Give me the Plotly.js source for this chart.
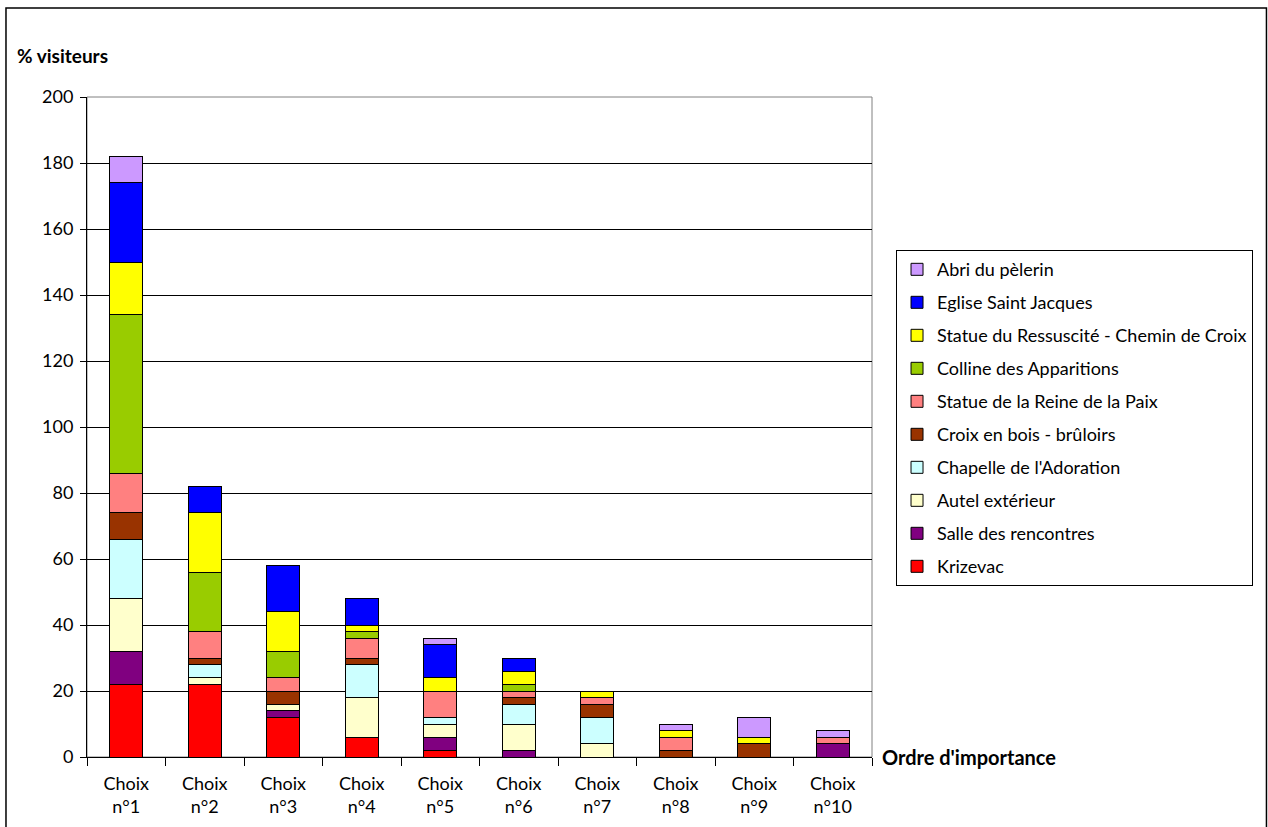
<!DOCTYPE html>
<html>
<head>
<meta charset="utf-8">
<script src="https://cdn.plot.ly/plotly-3.0.1.min.js"></script>
<style>html,body{margin:0;padding:0;background:#fff;}#chart{width:1268px;height:827px;}</style>
</head>
<body>
<div id="chart"></div>
<script>
const categories = ["Choix<br>n°1","Choix<br>n°2","Choix<br>n°3","Choix<br>n°4","Choix<br>n°5","Choix<br>n°6","Choix<br>n°7","Choix<br>n°8","Choix<br>n°9","Choix<br>n°10"];

const seriesNames = ["Krizevac","Salle des rencontres","Autel extérieur","Chapelle de l'Adoration","Croix en bois - brûloirs","Statue de la Reine de la Paix","Colline des Apparitions","Statue du Ressuscité - Chemin de Croix","Eglise Saint Jacques","Abri du pèlerin"];

const krizevac  = [22, 22, 12, 6, 2, 0, 0, 0, 0, 0];
const salle     = [10, 0, 2, 0, 4, 2, 0, 0, 0, 4];
const autel     = [16, 2, 2, 12, 4, 8, 4, 0, 0, 0];
const chapelle  = [18, 4, 0, 10, 2, 6, 8, 0, 0, 0];
const croix     = [8, 2, 4, 2, 0, 2, 4, 2, 4, 0];
const reine     = [12, 8, 4, 6, 8, 2, 2, 4, 0, 2];
const colline   = [48, 18, 8, 2, 0, 2, 0, 0, 0, 0];
const ressuscite= [16, 18, 12, 2, 4, 4, 2, 2, 2, 0];
const eglise    = [24, 8, 14, 8, 10, 4, 0, 0, 0, 0];
const abri      = [8, 0, 0, 0, 2, 0, 0, 2, 6, 2];

const seriesValues = [krizevac, salle, autel, chapelle, croix, reine, colline, ressuscite, eglise, abri];
const seriesColors = ["#FF0000","#800080","#FFFFCC","#CCFFFF","#993300","#FF8080","#99CC00","#FFFF00","#0000FF","#CC99FF"];

const FONT = "Lato, 'Open Sans', sans-serif";

const traces = seriesNames.map((n, i) => ({
  type: "bar",
  name: n,
  x: categories,
  y: seriesValues[i],
  legendgroup: "g" + i,
  legendrank: 100 - i,
  marker: {color: seriesColors[i], line: {color: "#000", width: 1}},
  hoverinfo: "name+y"
}));

const layout = {
  width: 1268, height: 827,
  margin: {l: 87, r: 396, t: 97, b: 70, pad: 0},
  paper_bgcolor: "#fff", plot_bgcolor: "#fff",
  barmode: "stack",
  bargap: 0.58,
  font: {family: FONT, size: 18, color: "#000"},
  showlegend: true,
  legend: {
    x: 1.0306, xanchor: "left", y: 0.768, yanchor: "top",
    traceorder: "grouped", tracegroupgap: 6.6,
    bordercolor: "#000", borderwidth: 1, bgcolor: "#fff",
    font: {family: FONT, size: 18, color: "#000"},
    itemclick: false
  },
  xaxis: {
    type: "category",
    showline: true, linecolor: "#000", linewidth: 1,
    ticks: "outside", tickson: "boundaries", ticklen: 8, tickcolor: "#000",
    ticklabelstandoff: 10,
    showgrid: false, zeroline: false,
    tickfont: {family: FONT, size: 18, color: "#000"},
    fixedrange: true
  },
  yaxis: {
    range: [0, 200], dtick: 20, tick0: 0,
    showline: true, linecolor: "#000", linewidth: 1,
    ticks: "outside", ticklen: 6, tickcolor: "#000",
    ticklabelstandoff: 3,
    showgrid: true, gridcolor: "#000", gridwidth: 1,
    zeroline: false,
    tickfont: {family: FONT, size: 18, color: "#000"},
    fixedrange: true
  },
  shapes: [
    {type: "rect", xref: "paper", yref: "paper", x0: 0, x1: 1, y0: 0, y1: 1,
     line: {color: "#808080", width: 1}, layer: "below"},
    {type: "rect", xref: "paper", yref: "paper", x0: -0.1032, x1: 1.5025, y0: -0.2, y1: 1.1348,
     line: {color: "#000", width: 1.5}, layer: "below"}
  ],
  annotations: [
    {text: "<b>% visiteurs</b>", xref: "paper", yref: "paper",
     x: -0.0917, y: 1.0636, xanchor: "left", yanchor: "middle", showarrow: false,
     font: {family: FONT, size: 19, color: "#000"}},
    {text: "<b>Ordre d'importance</b>", xref: "paper", yref: "paper",
     x: 1.0102, y: 0, xanchor: "left", yanchor: "middle", showarrow: false,
     font: {family: FONT, size: 20, color: "#000"}}
  ]
};

Plotly.newPlot("chart", traces, layout, {displayModeBar: false});
</script>
</body>
</html>
